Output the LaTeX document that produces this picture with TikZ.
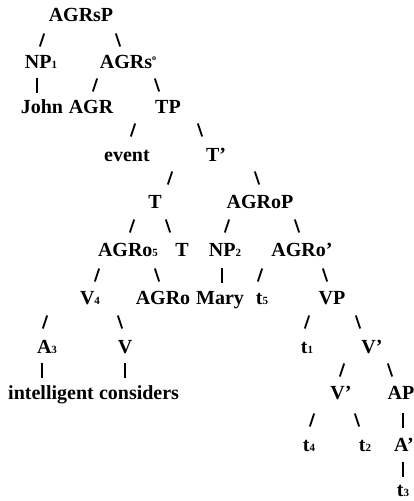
\documentclass[tikz,border=0pt]{standalone}
\usepackage{fontspec}
\setmainfont{Liberation Serif}
\newcommand{\dgt}[1]{{\fontsize{11}{11}\selectfont #1}}
\newcommand{\mkF}[2]{\draw[br] ({#1+2.2},{#2-6.5}) -- ({#1-2.2},{#2+6.5});}
\newcommand{\mkB}[2]{\draw[br] ({#1-2.2},{#2-6.5}) -- ({#1+2.2},{#2+6.5});}
\newcommand{\mkV}[2]{\draw[br] (#1,{#2-7.5}) -- (#1,{#2+7.5});}
\begin{document}
\begin{tikzpicture}[x=1pt,y=-1pt,
  lab/.style={anchor=base,inner sep=0pt,font=\fontsize{20}{20}\selectfont\bfseries},
  br/.style={line width=1.8pt}]
\useasboundingbox (0,0) rectangle (414,501);
% row 0
\node[lab] (r) at (81,21.5) {AGRsP};
% row 1
\node[lab] (np1) at (41,68.5) {NP\dgt{1}};
\node[lab] (agrs) at (128,68.5) {AGRs\raisebox{8pt}{\fontsize{8}{8}\selectfont o}};
% row 2
\node[lab] (john) at (42,113.5) {John};
\node[lab] (agr) at (91,113.5) {AGR};
\node[lab] (tp) at (168,113.5) {TP};
% row 3
\node[lab] (event) at (127,161.5) {event};
\node[lab] (tbar) at (216,161.5) {T'};
% row 4
\node[lab] (t) at (155,208.5) {T};
\node[lab] (agrop) at (260,208.5) {AGRoP};
% row 5
\node[lab] (agro5) at (128,256.5) {AGRo\dgt{5}};
\node[lab] (tt) at (182,256.5) {T};
\node[lab] (np2) at (225,256.5) {NP\dgt{2}};
\node[lab] (agrobar) at (302,256.5) {AGRo'};
% row 6
\node[lab] (v4) at (90,304.5) {V\dgt{4}};
\node[lab] (agro) at (163,304.5) {AGRo};
\node[lab] (mary) at (220,304.5) {Mary};
\node[lab] (t5) at (262,304.5) {t\dgt{5}};
\node[lab] (vp) at (332,304.5) {VP};
% row 7
\node[lab] (a3) at (47,353.5) {A\dgt{3}};
\node[lab] (v) at (125,353.5) {V};
\node[lab] (t1) at (307,353.5) {t\dgt{1}};
\node[lab] (vbar) at (372,353.5) {V'};
% row 8
\node[lab] (intel) at (51,399.5) {intelligent};
\node[lab] (cons) at (139,399.5) {considers};
\node[lab] (vbarb) at (341,399.5) {V'};
\node[lab] (ap) at (401,399.5) {AP};
% row 9
\node[lab] (t4) at (309,451.5) {t\dgt{4}};
\node[lab] (t2) at (365,451.5) {t\dgt{2}};
\node[lab] (abar) at (404,451.5) {A'};
% row 10
\node[lab] (t3) at (403,496.5) {t\dgt{3}};
% branch marks
\mkF{42}{40} \mkB{118}{40}
\mkV{37}{85} \mkF{95}{85} \mkB{157}{85}
\mkF{133}{130} \mkB{200}{130}
\mkF{170}{178} \mkB{257}{178}
\mkF{132}{226} \mkB{168}{226} \mkF{227}{226} \mkB{297}{226}
\mkF{97}{275} \mkB{157}{275} \mkV{222}{275} \mkF{260}{275} \mkB{325}{275}
\mkF{45}{322} \mkB{120}{322} \mkF{307}{322} \mkB{358}{322}
\mkV{42}{370} \mkV{125}{370} \mkF{342}{370} \mkB{390}{370}
\mkF{312}{420} \mkB{357}{420} \mkV{403}{420}
\mkV{403}{469}
\end{tikzpicture}
\end{document}
